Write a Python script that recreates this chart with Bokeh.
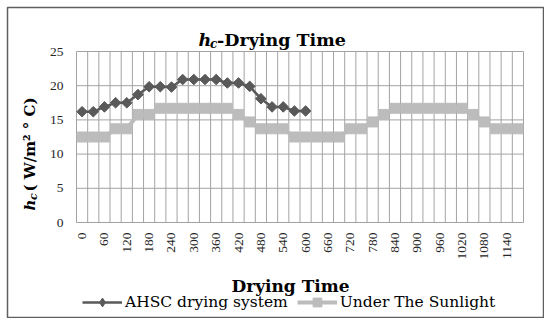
from math import pi
from bokeh.plotting import figure
from bokeh.models import Range1d, Label, Legend, LegendItem
from bokeh.core.properties import value
from bokeh.embed import file_html
from bokeh.resources import INLINE

# ---------------- data ----------------
time_ahsc = [0, 30, 60, 90, 120, 150, 180, 210, 240, 270, 300, 330, 360, 390,
             420, 450, 480, 510, 540, 570, 600]
hc_ahsc = [16.2, 16.2, 16.9, 17.5, 17.5, 18.7, 19.85, 19.85, 19.8, 20.9, 20.9,
           20.9, 20.9, 20.4, 20.4, 19.9, 18.1, 16.9, 16.9, 16.3, 16.3]

time_sun = [0, 30, 60, 90, 120, 150, 180, 210, 240, 270, 300, 330, 360, 390,
            420, 450, 480, 510, 540, 570, 600, 630, 660, 690, 720, 750, 780,
            810, 840, 870, 900, 930, 960, 990, 1020, 1050, 1080, 1110, 1140, 1170]
hc_sun = [12.5, 12.5, 12.5, 13.7, 13.7, 15.8, 15.8, 16.7, 16.7, 16.7, 16.7,
          16.7, 16.7, 16.7, 15.8, 14.7, 13.7, 13.7, 13.7, 12.5, 12.5, 12.5,
          12.5, 12.5, 13.7, 13.7, 14.7, 15.8, 16.7, 16.7, 16.7, 16.7, 16.7,
          16.7, 16.7, 15.8, 14.7, 13.7, 13.7, 13.7]

x_tick_labels = [0, 60, 120, 180, 240, 300, 360, 420, 480, 540, 600, 660, 720,
                 780, 840, 900, 960, 1020, 1080, 1140]
y_ticks = [0, 5, 10, 15, 20, 25]
y_max = 25

# ---------------- layout (page pixels) ----------------
HALF = 15                       # half a category (minutes)
X0, X1 = time_sun[0] - HALF, time_sun[-1] + HALF
PL, PR, PT, PB = 76, 523, 51, 222   # plot area
FL, FR, FT, FB = 7, 543, 7, 317     # chart area (outer border)
KX = (X1 - X0) / (PR - PL)
KY = y_max / (PB - PT)


def xd(px):
    return X0 + (px - PL) * KX


def yd(py):
    return (PB - py) * KY


p = figure(width=FR + 1, height=FB + 1,
           x_range=Range1d(xd(FL), xd(FR)), y_range=Range1d(yd(FB), yd(FT)),
           x_axis_type=None, y_axis_type=None,
           output_backend="svg", toolbar_location=None,
           min_border_left=FL, min_border_top=FT, min_border_right=1,
           min_border_bottom=1)
p.outline_line_color = "#5f5f5f"
p.outline_line_width = 1.5
p.background_fill_color = "white"
p.border_fill_color = "white"

# grid (category boundaries and value gridlines)
GRID = "#a3a3a3"
edges = [t - HALF for t in time_sun] + [X1]
p.segment(x0=edges, y0=[0] * len(edges), x1=edges, y1=[y_max] * len(edges),
          line_color=GRID, line_width=1)
p.segment(x0=[X0] * len(y_ticks), y0=y_ticks, x1=[X1] * len(y_ticks), y1=y_ticks,
          line_color=GRID, line_width=1)

# tick labels
TICKFONT = value("Liberation Serif")
p.text(x=x_tick_labels, y=[0] * len(x_tick_labels),
       text=[str(v) for v in x_tick_labels], angle=pi / 2, y_offset=10,
       text_align="right", text_baseline="middle", text_font=TICKFONT,
       text_font_size="13.5px", text_color="#262626")
p.text(x=[X0] * len(y_ticks), y=y_ticks, text=[str(v) for v in y_ticks],
       x_offset=-13, text_align="right", text_baseline="middle",
       text_font=TICKFONT, text_font_size="13.5px", text_color="#262626")

# series
SUN = "#bcbcbc"
AHSC = "#595959"
l2 = p.line(time_sun, hc_sun, line_color=SUN, line_width=4)
s2 = p.scatter(time_sun, hc_sun, marker="square", size=10, fill_color=SUN,
               line_color=SUN)
l1 = p.line(time_ahsc, hc_ahsc, line_color=AHSC, line_width=2.5)
s1 = p.scatter(time_ahsc, hc_ahsc, marker="square", angle=pi / 4, size=7.5,
               fill_color=AHSC, line_color=AHSC)
# same points as diamonds, hidden: only used for the legend symbol
s1_leg = p.scatter(time_ahsc, hc_ahsc, marker="diamond", size=11,
                   fill_color=AHSC, line_color=AHSC, visible=False)

legend = Legend(items=[LegendItem(label="AHSC drying system", renderers=[l1, s1_leg]),
                       LegendItem(label="Under The Sunlight", renderers=[l2, s2])],
                orientation="horizontal", location=(82 - FL, FB - 313),
                glyph_width=40, glyph_height=22, label_height=16,
                label_standoff=3, spacing=9, padding=0, margin=0,
                border_line_color=None, background_fill_alpha=0,
                label_text_font="DejaVu Serif", label_text_font_size="15.5px",
                label_text_color="#000000")
p.add_layout(legend)

SERIF = "DejaVu Serif"


def lab(px, py, text, size, style, angle=0, align="left"):
    p.add_layout(Label(x=xd(px), y=yd(py), text=text, text_font=SERIF,
                       text_font_size=size, text_font_style=style,
                       text_align=align, text_baseline="alphabetic",
                       angle=angle, text_color="#000000"))


# title: h_c-Drying Time
lab(198, 39.5, "h", "17.5px", "bold italic")
lab(209.5, 43.5, "c", "12px", "bold italic")
lab(216.5, 39.5, "-Drying Time", "17.5px", "bold")

# x axis title
lab(290, 285, "Drying Time", "17px", "bold", align="center")

# y axis title (rotated)
lab(29, 210, "h", "15px", "bold italic", angle=pi / 2)
lab(33, 199.5, "c", "11px", "bold italic", angle=pi / 2)
lab(29, 191, " ( W/m² ° C)", "15px", "bold", angle=pi / 2)

open("out.html", "w").write(file_html(p, INLINE))
